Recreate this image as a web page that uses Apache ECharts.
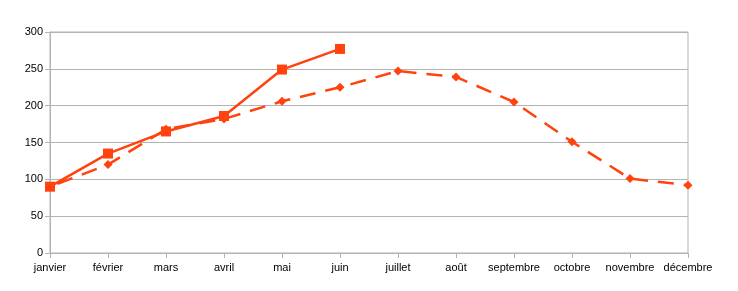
<!DOCTYPE html>
<html><head><meta charset="utf-8">
<script src="https://cdn.jsdelivr.net/npm/echarts@6/dist/echarts.min.js"></script>
<style>html,body{margin:0;padding:0;background:#fff}#c{width:738px;height:291px}</style>
</head><body><div id="c"></div>
<script>
const categories = ['janvier','février','mars','avril','mai','juin','juillet','août','septembre','octobre','novembre','décembre'];
const solidValues = [90,135,165,186,249,277,null,null,null,null,null,null];
const dashedValues = [90,120,168,182,206,225,247,239,205,151,101,92];
const yTicks = [0,50,100,150,200,250,300];
const color = '#ff420e';
const chart = echarts.init(document.getElementById('c'));
chart.setOption({
  animation:false,
  grid:{left:50,right:50,top:32,bottom:38,show:true,borderColor:'#b3b3b3',borderWidth:1},
  xAxis:{type:'category',data:categories,boundaryGap:false,
    axisLine:{lineStyle:{color:'#b3b3b3'}},
    axisTick:{show:true,length:5,lineStyle:{color:'#b3b3b3'}},
    axisLabel:{color:'#000',fontFamily:'Liberation Sans',fontSize:11,margin:9,interval:0},
    splitLine:{show:false}},
  yAxis:{type:'value',min:yTicks[0],max:yTicks[yTicks.length-1],interval:50,
    axisLine:{show:true,lineStyle:{color:'#b3b3b3'}},
    axisTick:{show:true,length:5,lineStyle:{color:'#b3b3b3'}},
    axisLabel:{color:'#000',fontFamily:'Liberation Sans',fontSize:11,margin:7},
    splitLine:{lineStyle:{color:'#b3b3b3'}}},
  series:[
    {type:'line',data:dashedValues,symbol:'diamond',symbolSize:9,
     lineStyle:{color:color,width:2.5,type:[16,10],dashOffset:18},itemStyle:{color:color},z:2},
    {type:'line',data:solidValues,symbol:'rect',symbolSize:10,connectNulls:false,
     lineStyle:{color:color,width:2.5},itemStyle:{color:color},z:3}
  ]
});
</script></body></html>
